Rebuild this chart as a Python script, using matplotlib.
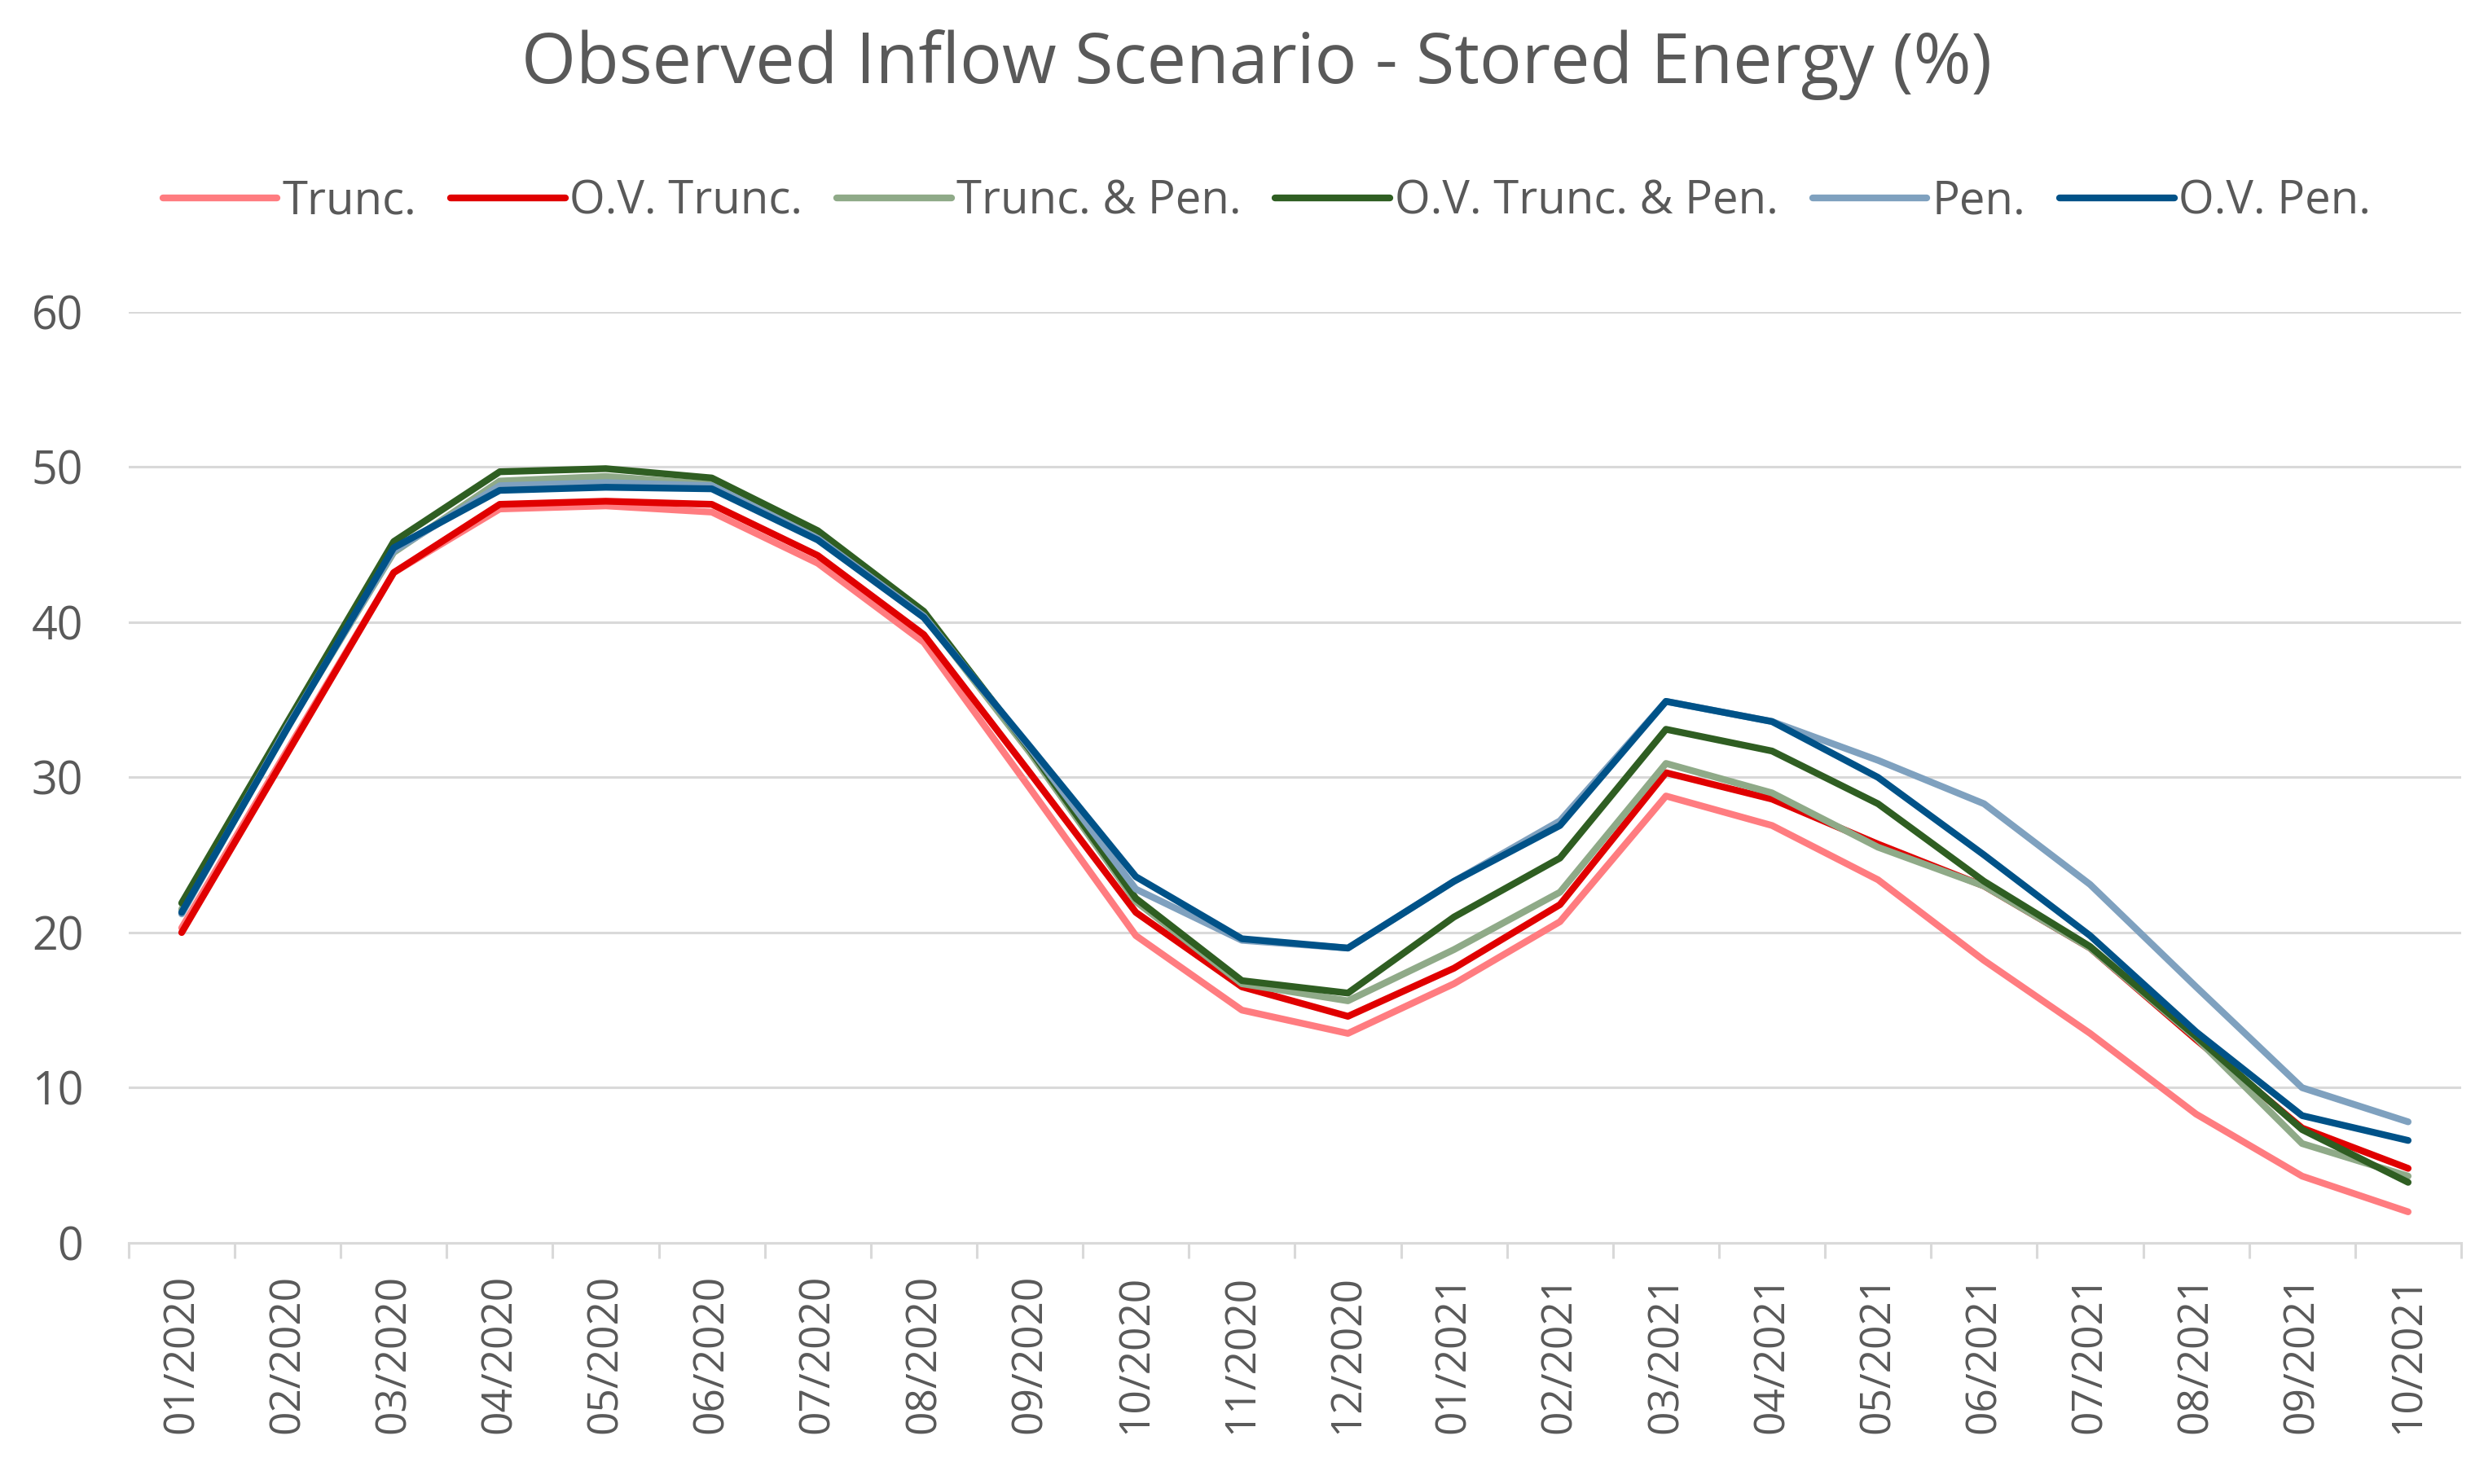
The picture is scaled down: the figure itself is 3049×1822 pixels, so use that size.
import numpy as np
import matplotlib
matplotlib.use('Agg')
import matplotlib.pyplot as plt

plt.rcParams['font.family'] = ['Open Sans', 'DejaVu Sans']

# ---- data ----
months = ['01/2020', '02/2020', '03/2020', '04/2020', '05/2020', '06/2020',
          '07/2020', '08/2020', '09/2020', '10/2020', '11/2020', '12/2020',
          '01/2021', '02/2021', '03/2021', '04/2021', '05/2021', '06/2021',
          '07/2021', '08/2021', '09/2021', '10/2021']

trunc = [20.3, 31.8, 43.2, 47.3, 47.5, 47.1, 43.8, 38.7, 29.3, 19.8, 15.0, 13.5,
         16.7, 20.7, 28.8, 26.9, 23.4, 18.2, 13.5, 8.3, 4.3, 2.0]
ov_trunc = [20.0, 31.6, 43.2, 47.6, 47.8, 47.6, 44.3, 39.2, 30.3, 21.3, 16.5, 14.6,
            17.7, 21.8, 30.3, 28.6, 25.7, 23.0, 19.0, 13.1, 7.4, 4.8]
trunc_pen = [21.5, 33.3, 44.5, 49.1, 49.4, 48.9, 45.6, 40.4, 31.6, 22.0, 16.7, 15.6,
             18.9, 22.6, 30.9, 29.0, 25.5, 23.0, 19.0, 13.2, 6.4, 4.3]
ov_trunc_pen = [21.9, 33.6, 45.2, 49.7, 49.9, 49.3, 45.9, 40.7, 31.8, 22.2, 16.9, 16.1,
                21.0, 24.8, 33.1, 31.7, 28.3, 23.3, 19.1, 13.3, 7.3, 3.9]
pen = [21.2, 33.3, 44.6, 48.8, 49.0, 48.8, 45.4, 40.4, 31.9, 22.8, 19.5, 19.0,
       23.3, 27.2, 34.9, 33.6, 31.1, 28.3, 23.1, 16.5, 10.0, 7.8]
ov_pen = [21.3, 33.2, 44.8, 48.5, 48.7, 48.6, 45.3, 40.3, 32.0, 23.6, 19.6, 19.0,
          23.3, 26.9, 34.9, 33.6, 30.0, 25.0, 19.8, 13.6, 8.2, 6.6]

series = [
    ('Trunc.', trunc, '#FF7C80'),
    ('O.V. Trunc.', ov_trunc, '#E00000'),
    ('Trunc. & Pen.', trunc_pen, '#8FAA88'),
    ('O.V. Trunc. & Pen.', ov_trunc_pen, '#2F5E22'),
    ('Pen.', pen, '#7FA1BF'),
    ('O.V. Pen.', ov_pen, '#005288'),
]

text_color = '#595959'
grid_color = '#D9D9D9'

fig = plt.figure(figsize=(30.49, 18.22), dpi=100)
ax = fig.add_axes([0.0518, 0.1625, 0.939, 0.6273])

x = np.arange(len(months))
for name, vals, col in series:
    ax.plot(x, vals, color=col, linewidth=6, label=name,
            solid_joinstyle='round', solid_capstyle='round')

ax.set_xlim(-0.5, len(months) - 0.5)
ax.set_ylim(0, 60)
ax.set_yticks(np.arange(0, 61, 10))
ax.yaxis.grid(True, color=grid_color, linewidth=2.2)
ax.set_axisbelow(True)

for s in ['top', 'right', 'left']:
    ax.spines[s].set_visible(False)
ax.spines['bottom'].set_color(grid_color)
ax.spines['bottom'].set_linewidth(2.2)

# category ticks between months, labels at month centres
ax.set_xticks(np.arange(-0.5, len(months), 1.0))
ax.set_xticklabels([])
ax.tick_params(axis='x', which='major', length=14, width=2.2, color=grid_color)
ax.set_xticks(x, minor=True)
ax.set_xticklabels(months, minor=True, rotation=90, fontsize=37, color=text_color)
ax.tick_params(axis='x', which='minor', length=0, pad=28)
ax.tick_params(axis='y', length=0, pad=40, labelsize=40, labelcolor=text_color)

fig.text(0.506, 0.98, 'Observed Inflow Scenario - Stored Energy (%)',
         ha='center', va='top', fontsize=62, color=text_color)

fig.legend(loc='center', bbox_to_anchor=(0.51, 0.864), ncol=6, frameon=False,
           fontsize=40.5, handlelength=2.5, handletextpad=0.1, columnspacing=0.75,
           labelcolor=text_color)

fig.savefig('out.png', dpi=100, facecolor='white')
